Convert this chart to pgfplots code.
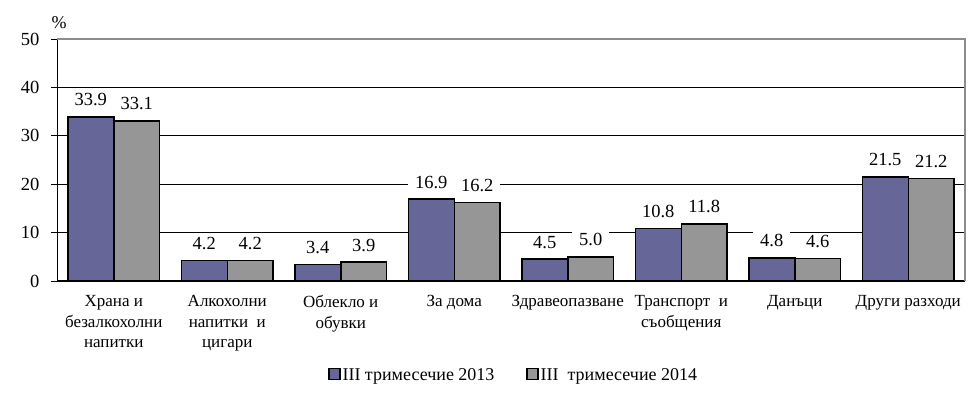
\documentclass[border=0pt]{standalone}
\usepackage{pgfplots}
\pgfplotsset{compat=1.18}
\usepackage{fontspec}
\setmainfont{Liberation Serif}
\definecolor{bblue}{RGB}{102,102,153}
\definecolor{bgray}{RGB}{150,150,150}
\definecolor{frame}{RGB}{140,140,140}
\begin{document}
\begin{tikzpicture}
\useasboundingbox (0,0) rectangle (980bp,396bp);
\begin{axis}[
  at={(57bp,115bp)}, anchor=south west,
  scale only axis, width=908bp, height=242bp,
  ybar=0pt, bar width=0.405,
  xmin=-0.5, xmax=7.5, ymin=0, ymax=50,
  ytick={0,10,...,50},
  xtick={0,...,7},
  xticklabels={{Храна и\\безалкохолни\\напитки},{Алкохолни\\напитки\ \ и\\цигари},{Облекло и\\обувки},{За дома},{Здравеопазване},{Транспорт\ \ и\\съобщения},{Данъци},{Други разходи}},
  xticklabel style={align=center, font=\fontsize{17bp}{20.5bp}\selectfont, yshift=-5bp},
  yticklabel style={font=\fontsize{18.5bp}{20bp}\selectfont, xshift=-8bp},
  /pgf/number format/assume math mode=true,
  major x tick style={draw=none},
  extra x ticks={-0.5,0.5,...,7.5},
  extra x tick labels={},
  extra x tick style={major tick length=5bp, tick style={black, line width=0.8bp, draw=black}, grid=none},
  tick align=outside,
  major tick length=6bp,
  ytick style={black, line width=0.8bp},
  axis x line*=bottom, axis y line*=left,
  axis line style={black, line width=1bp, -},
  ymajorgrids, grid style={black, line width=0.8bp},
  nodes near coords,
  nodes near coords style={/pgf/number format/fixed, /pgf/number format/fixed zerofill, /pgf/number format/precision=1, /pgf/number format/assume math mode=true},
  every node near coord/.append style={font=\fontsize{18.5bp}{20bp}\selectfont, fill=white, inner xsep=7bp, inner ysep=2bp, anchor=south, yshift=8bp},
  legend style={draw=none, at={(0.503,-0.388)}, anchor=center, legend columns=2, font=\fontsize{18bp}{20bp}\selectfont,
    /tikz/every even column/.append style={column sep=30bp}},
  legend image code/.code={\path[#1, draw=black, line width=1.2bp] (-1bp,-4.5bp) rectangle (10bp,6bp);},
  clip=false,
]
\addplot[fill=bblue, draw=black, line width=1.5bp] coordinates {(0,33.9) (1,4.2) (2,3.4) (3,16.9) (4,4.5) (5,10.8) (6,4.8) (7,21.5)};
\addplot[fill=bgray, draw=black, line width=1.5bp] coordinates {(0,33.1) (1,4.2) (2,3.9) (3,16.2) (4,5.0) (5,11.8) (6,4.6) (7,21.2)};
\legend{III тримесечие 2013, III\ \ тримесечие 2014}
\draw[frame, line width=1.2bp] (rel axis cs:0,1) -- (rel axis cs:1,1) -- (rel axis cs:1,0);
\node[font=\fontsize{18bp}{20bp}\selectfont] at (rel axis cs:0,1) [xshift=2bp, yshift=16bp] {\%};
\end{axis}
\end{tikzpicture}
\end{document}
